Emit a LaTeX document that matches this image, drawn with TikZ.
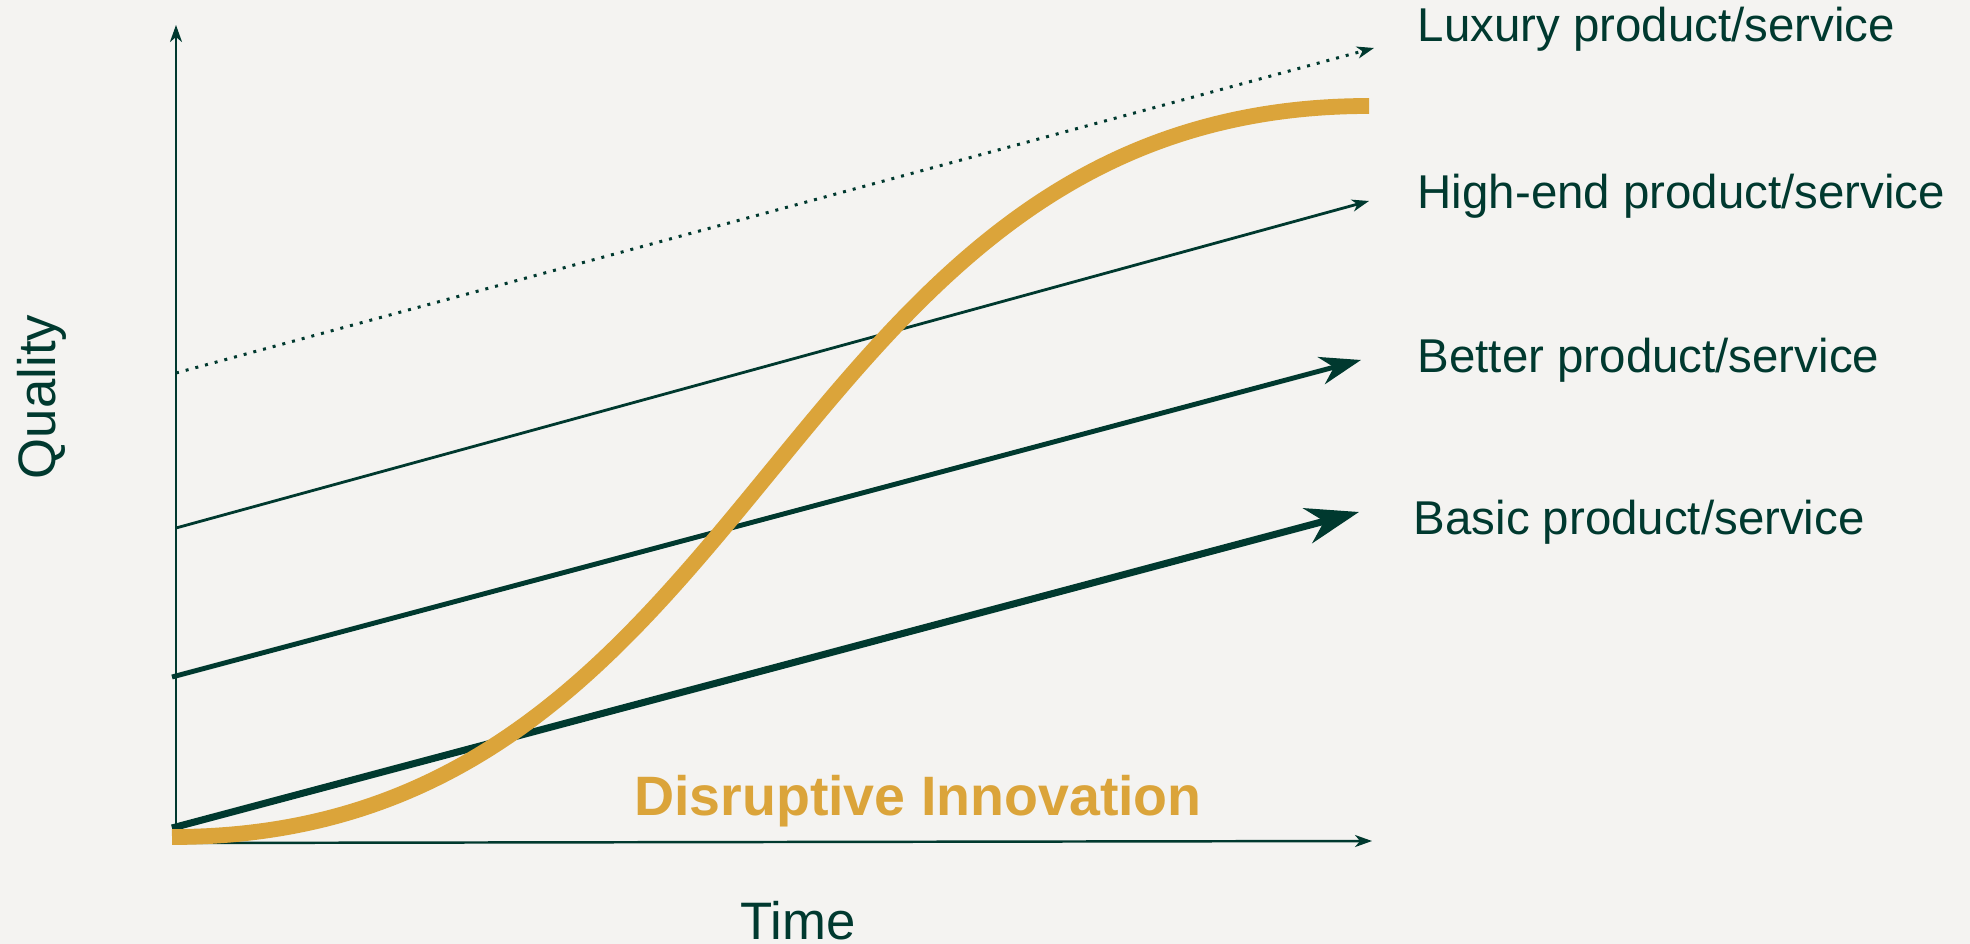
\documentclass[tikz,border=0pt]{standalone}
\usepackage{fontspec}
\setmainfont{Liberation Sans}
\usetikzlibrary{arrows.meta}
\definecolor{pine}{HTML}{00392F}
\definecolor{ochre}{HTML}{DBA43A}
\definecolor{paper}{HTML}{F4F3F1}
\tikzset{axisline/.style={pine,line width=0.7pt,-{Stealth[length=1.7mm,width=1.2mm,inset=0.5mm]}},
         luxline/.style={pine,line width=0.85pt,dotted,-{Stealth[length=1.7mm,width=1.2mm,inset=0.5mm]}},
         highline/.style={pine,line width=0.8pt,-{Stealth[length=1.7mm,width=1.2mm,inset=0.5mm]}},
         betterline/.style={pine,line width=1.4pt,-{Stealth[length=4.1mm,width=2.8mm,inset=1.3mm]}},
         basicline/.style={pine,line width=2pt,-{Stealth[length=5.3mm,width=3.6mm,inset=1.7mm]}},
         scurve/.style={ochre,line width=4.5pt},
         lab/.style={pine,anchor=west,inner sep=0pt,font=\fontsize{13.5}{16}\selectfont},
         axlab/.style={pine,inner sep=0pt,font=\fontsize{15}{18}\selectfont}}

\begin{document}
\begin{tikzpicture}[x=0.1mm,y=-0.1mm]
 \fill[paper] (0,0) rectangle (1970,944);
 \useasboundingbox (0,0) rectangle (1970,944);
 % axes
 \coordinate (o) at (176,843);
 \coordinate (ytop) at (176,25);
 \coordinate (xend) at (1372,841);
 \draw[axisline] (o) -- (ytop);
 \draw[axisline] (o) -- (xend);
 % product lines
 \coordinate (lux0) at (176,373);  \coordinate (lux1) at (1374,48);
 \coordinate (high0) at (176,528); \coordinate (high1) at (1369,201);
 \coordinate (bet0) at (172,677);  \coordinate (bet1) at (1361,360);
 \coordinate (bas0) at (172,828);  \coordinate (bas1) at (1359,512);
 \draw[luxline] (lux0) -- (lux1);
 \draw[highline] (high0) -- (high1);
 \draw[betterline] (bet0) -- (bet1);
 \draw[basicline] (bas0) -- (bas1);
 % disruptive s-curve on top
 \coordinate (s0) at (172,837);
 \coordinate (s1) at (1369,106);
 \draw[scurve] (s0) .. controls (770,837) and (771,106) .. (s1);
 \node[lab] (lux) at (1417,29) {Luxury product/service};
 \node[lab] (high) at (1417,196) {High-end product/service};
 \node[lab] (better) at (1417,360) {Better product/service};
 \node[lab] (basic) at (1413,522) {Basic product/service};
 \node[ochre,inner sep=0pt,font=\fontsize{15.8}{18}\selectfont\bfseries] (disr) at (918,801) {Disruptive Innovation};
 \node[axlab,anchor=base] (time) at (798,939) {Time};
 \node[axlab,anchor=base,rotate=90] (qual) at (56,397) {Quality};
\end{tikzpicture}
\end{document}
